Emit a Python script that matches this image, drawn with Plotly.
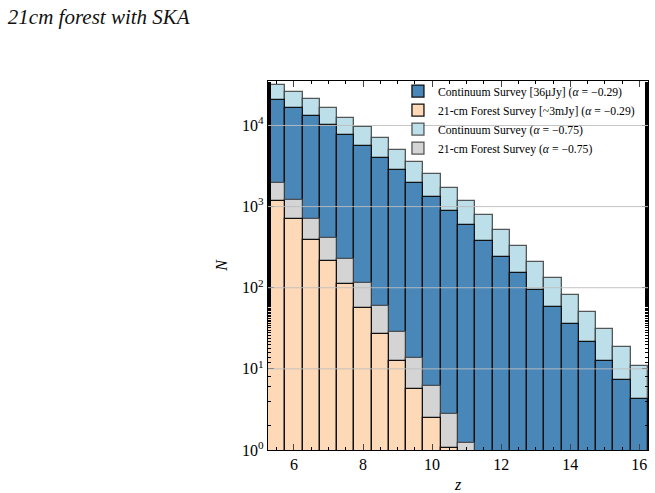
import plotly.graph_objects as go

z_centers = [5.5, 6.0, 6.5, 7.0, 7.5, 8.0, 8.5, 9.0, 9.5, 10.0, 10.5,
             11.0, 11.5, 12.0, 12.5, 13.0, 13.5, 14.0, 14.5, 15.0, 15.5, 16.0]

cont_029 = [20430, 16600, 13090, 10050, 7570, 5540, 3980, 2806, 1959, 1331, 895,
            585, 378, 240, 154, 94.2, 58.2, 35.3, 21.2, 12.5, 7.28, 4.21]
forest_029 = [1175, 700, 393, 214, 111, 55.6, 27.1, 12.6, 5.69, 2.50, 1.07,
              None, None, None, None, None, None, None, None, None, None, None]
cont_075 = [31260, 26140, 21030, 16430, 12510, 9500, 6955, 4990, 3550, 2506, 1700,
            1156, 777, 508, 325, 208, 130, 81.8, 50.1, 30.7, 18.4, 10.9]
forest_075 = [1981, 1223, 713, 405, 223, 116, 58.9, 28.6, 13.5, 6.19, 2.78,
              1.21, None, None, None, None, None, None, None, None, None, None]

names = {
    "c029": "Continuum Survey [36μJy] (<i>α</i> = −0.29)",
    "f029": "21-cm Forest Survey [~3mJy] (<i>α</i> = −0.29)",
    "c075": "Continuum Survey (<i>α</i> = −0.75)",
    "f075": "21-cm Forest Survey (<i>α</i> = −0.75)",
}

SERIF = "Liberation Serif, Times New Roman, serif"
bin_w = 0.5

fig = go.Figure()
fig.add_trace(go.Bar(x=z_centers, y=cont_075, width=bin_w, name=names["c075"],
                     marker=dict(color="#bcdfea", line=dict(color="rgba(60,60,60,0.85)", width=1.3)),
                     legendrank=3))
fig.add_trace(go.Bar(x=z_centers, y=cont_029, width=bin_w, name=names["c029"],
                     marker=dict(color="#4a87b9", line=dict(color="#111111", width=1.3)),
                     legendrank=1))
fig.add_trace(go.Bar(x=z_centers, y=forest_075, width=bin_w, name=names["f075"],
                     marker=dict(color="#d4d4d4", line=dict(color="rgba(60,60,60,0.85)", width=1.3)),
                     legendrank=4))
fig.add_trace(go.Bar(x=z_centers, y=forest_029, width=bin_w, name=names["f029"],
                     marker=dict(color="#fed9b8", line=dict(color="#111111", width=1.3)),
                     legendrank=2))

# gridlines above bars at decades
decades = [1, 10, 100, 1000, 10000]
for d in decades[1:]:
    fig.add_shape(type="line", xref="paper", x0=0, x1=1, yref="y", y0=d, y1=d,
                  line=dict(color="rgba(190,190,190,0.9)", width=1), layer="above")

fig.update_layout(
    width=655, height=493,
    margin=dict(l=268, r=7, t=81, b=43, autoexpand=False),
    barmode="overlay", bargap=0,
    plot_bgcolor="white", paper_bgcolor="white",
    font=dict(family=SERIF, color="black"),
    title=dict(text="<i>21cm forest with SKA</i>", xref="container", x=0.012, xanchor="left",
               y=1 - 17 / 493, yanchor="middle", font=dict(family=SERIF, size=21, color="#111")),
    legend=dict(x=0.342, y=1.012, xanchor="left", yanchor="top", bgcolor="rgba(0,0,0,0)",
                font=dict(family=SERIF, size=11.7), tracegroupgap=0, itemwidth=30),
    showlegend=True,
)

fig.update_xaxes(
    range=[5.25, 16.25], tickvals=[6, 8, 10, 12, 14, 16], ticks="inside", ticklen=6,
    tickwidth=1, showline=True, linecolor="black", linewidth=1.3, mirror="ticks",
    showgrid=False, zeroline=False, tickfont=dict(size=16),
    minor=dict(tickvals=[x * 0.5 for x in range(11, 33)], ticks="inside", ticklen=3, tickcolor="black"),
    title=dict(text="<i>z</i>", font=dict(size=16), standoff=6),
)
fig.update_yaxes(
    type="log", range=[0, 4.548], tickvals=decades,
    ticktext=["10<sup>0</sup>", "10<sup>1</sup>", "10<sup>2</sup>", "10<sup>3</sup>", "10<sup>4</sup>"],
    ticks="inside", ticklen=6, tickwidth=1, showline=True, linecolor="black", linewidth=1.3,
    mirror="ticks", showgrid=False, zeroline=False, tickfont=dict(size=16),
    minor=dict(ticks="inside", ticklen=3, tickcolor="black", showgrid=False),
    title=dict(text="<i>N</i>", font=dict(size=16), standoff=10),
)

fig.write_html("out.html")
